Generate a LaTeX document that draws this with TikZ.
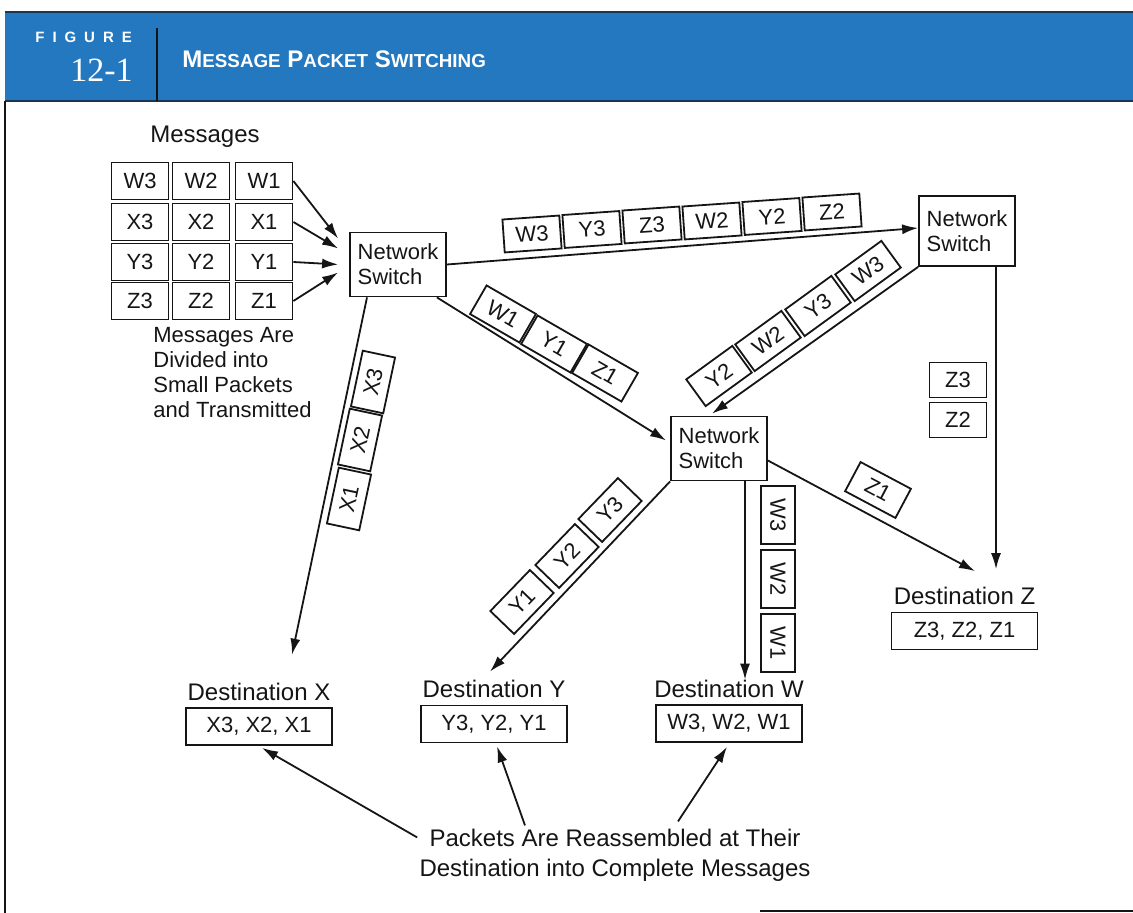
\documentclass[tikz,border=0pt]{standalone}
\usepackage{fontspec}
\setmainfont{Liberation Sans}
\newfontfamily\numfont{Liberation Serif}
\usepackage{xcolor}
\definecolor{Ink}{HTML}{151515}
\definecolor{Band}{HTML}{2378C0}
\definecolor{BandEdge}{HTML}{1C3550}
\usetikzlibrary{arrows.meta,positioning,calc}
\newcommand{\smallcap}[1]{{\fontsize{9.4}{11}\selectfont #1}}
\tikzset{
  packet/.style={draw=Ink,line width=.9pt,minimum width=28.5pt,minimum height=16.5pt,
    inner sep=0pt,text=Ink,font=\fontsize{11}{13}\selectfont},
  gridpkt/.style={packet,minimum height=18.5pt},
  switch/.style={draw=Ink,line width=.9pt,minimum width=48pt,minimum height=32pt,
    align=left,inner sep=1pt,text=Ink,font=\fontsize{11}{12.5}\selectfont},
  dest/.style={draw=Ink,line width=.9pt,minimum width=73pt,minimum height=18.5pt,
    inner sep=0pt,text=Ink,font=\fontsize{11}{13}\selectfont},
  caption/.style={text=Ink,inner sep=0pt,align=center,font=\fontsize{12}{15}\selectfont},
  note/.style={text=Ink,inner sep=0pt,align=left,font=\fontsize{11}{12.5}\selectfont},
  arrow/.style={-{Latex[length=8pt,width=5pt]},line width=.9pt,draw=Ink}
}

\begin{document}
\begin{tikzpicture}[x=0.5pt,y=-0.5pt]
\useasboundingbox (0,0) rectangle (1133,913);
% header band
\fill[Band] (5,12) rectangle (1133,101);
\draw[BandEdge,line width=1pt] (5,12) -- (1133,12);
\draw[BandEdge,line width=1pt] (5,101) -- (1133,101);
\draw[Ink,line width=1.2pt] (157,28) -- (157,101);
\node[anchor=west,inner sep=0pt,text=white,font=\bfseries\fontsize{7.5}{9}\selectfont\addfontfeatures{LetterSpace=53}] (figword) at (35,37) {FIGURE};
\node[anchor=east,inner sep=0pt,text=white,font=\numfont\fontsize{17}{20}\selectfont] (fignum) at (133,70) {12-1};
\node[anchor=west,inner sep=0pt,text=white,font=\bfseries\fontsize{12}{14}\selectfont] (title) at (182,59)
  {M\smallcap{ESSAGE} P\smallcap{ACKET} S\smallcap{WITCHING}};
% frame
\draw[Ink,line width=1.2pt] (5,101) -- (5,913);
\draw[Ink,line width=1.2pt] (760,911) -- (1133,911);

% messages split into packets
\node[caption] (msgs) at (205,137) {Messages};
\node[gridpkt] (w3) at (140,181) {W3};
\node[gridpkt] (w2) at (201,181) {W2};
\node[gridpkt] (w1) at (264,181) {W1};
\node[gridpkt] (x3) at (140,222) {X3};
\node[gridpkt] (x2) at (201,222) {X2};
\node[gridpkt] (x1) at (264,222) {X1};
\node[gridpkt] (y3) at (140,262) {Y3};
\node[gridpkt] (y2) at (201,262) {Y2};
\node[gridpkt] (y1) at (264,262) {Y1};
\node[gridpkt] (z3) at (140,301) {Z3};
\node[gridpkt] (z2) at (201,301) {Z2};
\node[gridpkt] (z1) at (264,301) {Z1};
\node[note,anchor=north west] (divided) at (153,327)
  {Messages Are\\Divided into\\Small Packets\\and Transmitted};

% switches
\node[switch] (swA) at (398,264.5) {Network\\Switch};
\node[switch,minimum height=35pt] (swB) at (967,231) {Network\\Switch};
\node[switch] (swC) at (719,448.5) {Network\\Switch};

% destinations
\node[dest] (destX) at (259,726.5) {X3, X2, X1};
\node[dest] (destY) at (494,724) {Y3, Y2, Y1};
\node[dest] (destW) at (729,723.5) {W3, W2, W1};
\node[dest] (destZ) at (964.5,631) {Z3, Z2, Z1};
\node[caption,above=3pt of destX] (lblX) {Destination X};
\node[caption,above=3pt of destY] (lblY) {Destination Y};
\node[caption,above=3pt of destW] (lblW) {Destination W};
\node[caption,above=3pt of destZ] (lblZ) {Destination Z};
\node[caption] (reasm) at (615,855) {Packets Are Reassembled at Their\\Destination into Complete Messages};

% packets in transit
\node[packet,rotate=4] (tw3) at (532,234) {W3};
\node[packet,rotate=4] (ty3) at (592,229.5) {Y3};
\node[packet,rotate=4] (tz3) at (652,225) {Z3};
\node[packet,rotate=4] (tw2) at (712,221) {W2};
\node[packet,rotate=4] (ty2) at (772,216.5) {Y2};
\node[packet,rotate=4] (tz2) at (832,212) {Z2};
\node[packet,rotate=-30] (aw1) at (503,314) {W1};
\node[packet,rotate=-30] (ay1) at (554,344) {Y1};
\node[packet,rotate=-30] (az1) at (605,373) {Z1};
\node[packet,rotate=78] (px3) at (373,382) {X3};
\node[packet,rotate=78] (px2) at (360,440) {X2};
\node[packet,rotate=78] (px1) at (349,499) {X1};
\node[packet,rotate=36] (bw3) at (868,271) {W3};
\node[packet,rotate=36] (by3) at (818,306) {Y3};
\node[packet,rotate=36] (bw2) at (768,341) {W2};
\node[packet,rotate=36] (by2) at (719,376) {Y2};
\node[packet,rotate=46] (py3) at (610,510) {Y3};
\node[packet,rotate=46] (py2) at (567,556) {Y2};
\node[packet,rotate=46] (py1) at (522,602) {Y1};
\node[packet,rotate=-90,minimum width=29pt,minimum height=17pt] (pw3) at (778,515) {W3};
\node[packet,rotate=-90,minimum width=29pt,minimum height=17pt] (pw2) at (778,579) {W2};
\node[packet,rotate=-90,minimum width=29pt,minimum height=17pt] (pw1) at (778,643) {W1};
\node[packet,rotate=-28] (cz1) at (878,490) {Z1};
\node[gridpkt,minimum height=17.5pt] (bz3) at (958,380) {Z3};
\node[gridpkt,minimum height=17.5pt] (bz2) at (958,420) {Z2};

% connectors
\draw[arrow] (w1.east) -- ([xshift=-5.5pt,yshift=13pt]swA.west);
\draw[arrow] (x1.east) -- ([xshift=-5.5pt,yshift=8pt]swA.west);
\draw[arrow] (y1.east) -- ([xshift=-5.5pt]swA.west);
\draw[arrow] (z1.east) -- ([xshift=-5.5pt,yshift=-4pt]swA.west);
\draw[arrow] (swA.east) -- ([yshift=1.5pt]swB.west);
\draw[arrow] ([xshift=-5pt]swA.south east) -- ([xshift=-2pt,yshift=4pt]swC.west);
\draw[arrow] ([xshift=-15.5pt]swA.south) -- ([xshift=16.5pt,yshift=14pt]lblX.north);
\draw[arrow] (swB.south west) -- ([xshift=-3.5pt,yshift=1pt]swC.north);
\draw[arrow] ([xshift=14.5pt]swB.south) -- ([xshift=15.75pt,yshift=9pt]lblZ.north);
\draw[arrow] ([yshift=-6pt]swC.east) -- ([xshift=5.25pt,yshift=8pt]lblZ.north);
\draw[arrow] (swC.south west) -- ([xshift=-2pt,yshift=4.3pt]lblY.north);
\draw[arrow] ([xshift=13pt]swC.south) -- ([xshift=8pt]lblW.north);
\draw[arrow] ([xshift=-1pt,yshift=-4.5pt]reasm.north west) -- ([xshift=1.5pt,yshift=-1pt]destX.south);
\draw[arrow] ([xshift=-45pt,yshift=1.5pt]reasm.north) -- ([xshift=1.5pt,yshift=-1.5pt]destY.south);
\draw[arrow] ([xshift=31.5pt,yshift=3.5pt]reasm.north) -- ([xshift=-1pt,yshift=-2pt]destW.south);
\end{tikzpicture}
\end{document}
